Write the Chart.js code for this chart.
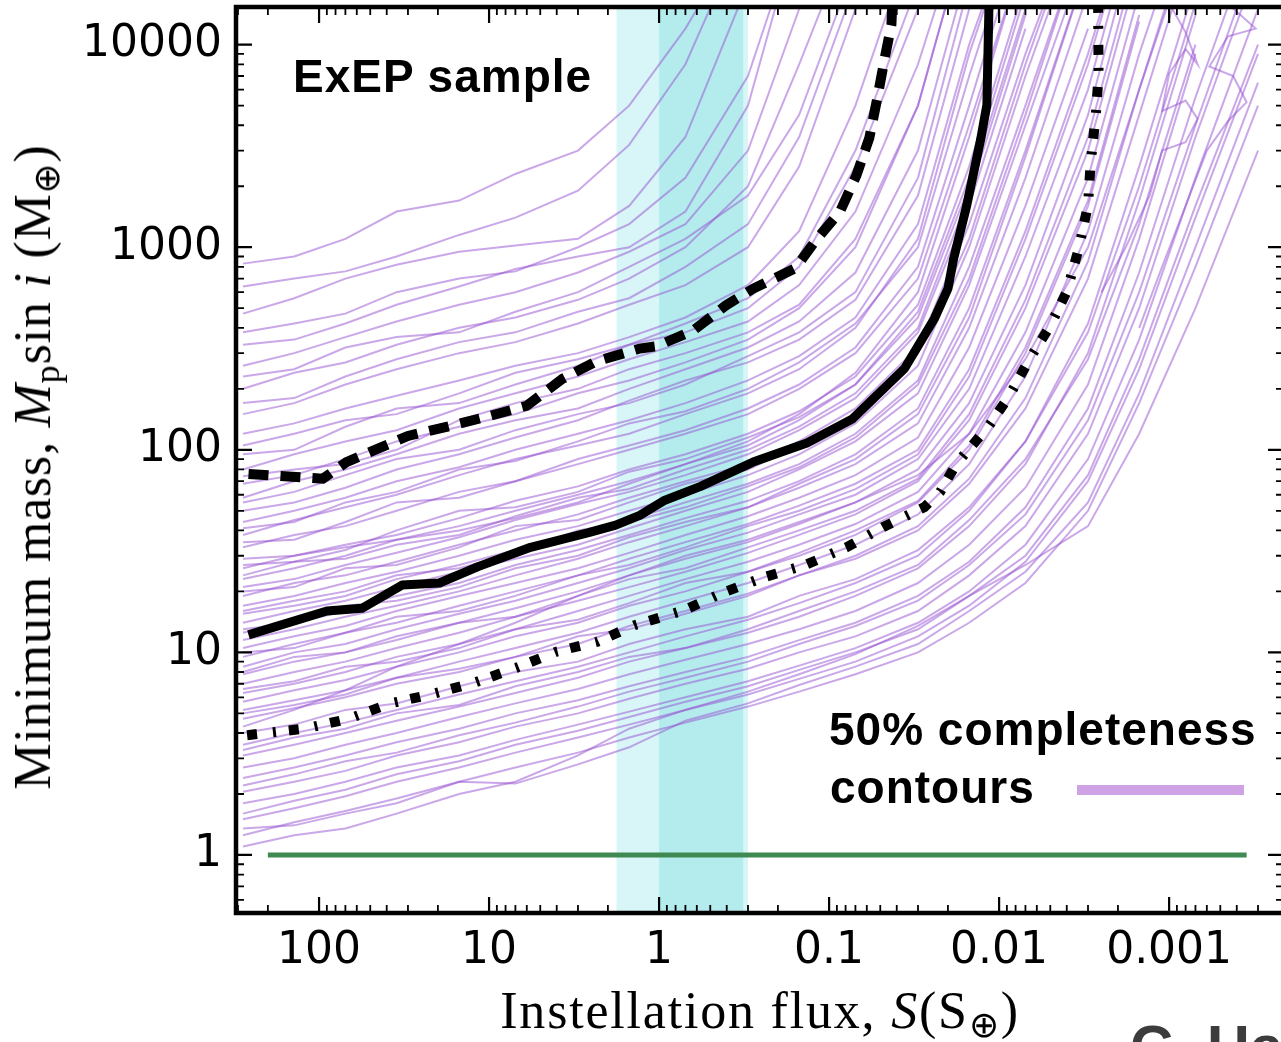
<!DOCTYPE html>
<html>
<head>
<meta charset="utf-8">
<script src="https://cdn.jsdelivr.net/npm/chart.js@4.4.1/dist/chart.umd.min.js"></script>
<style>
  html, body { margin: 0; padding: 0; background: #fff; }
  #wrap { position: relative; width: 1281px; height: 1042px; overflow: hidden; background: #fff; }
  #chart { position: absolute; left: 0; top: 0; }
  .lbl { position: absolute; white-space: nowrap; line-height: 1; color: #000; }
  .bold { font-family: "Liberation Sans", Arial, sans-serif; font-weight: bold; font-size: 46px; }
  .serif { font-family: "Liberation Serif", "Times New Roman", serif; font-size: 52px; }
  .serif sub { font-size: 36px; vertical-align: -9px; line-height: 0; }
  #xtitle { left: 760px; top: 985px; transform: translateX(-50%); letter-spacing: 1.8px; }
  #ytitle { left: 33px; top: 467px; transform: translate(-50%, -50%) rotate(-90deg); letter-spacing: 0.8px; }
  #sample { left: 293px; top: 53px; letter-spacing: 1px; }
  #leg1 { left: 829px; top: 706px; letter-spacing: 1px; }
  #leg2 { left: 830px; top: 764px; letter-spacing: 1px; }
  #legline { position: absolute; left: 1077px; top: 785px; width: 167px; height: 10px; background: #cfa2e6; }
  #credit { left: 1130px; top: 1017px; font-size: 60px; color: #3c3c3c; }
</style>
</head>
<body>
<div id="wrap">
  <canvas id="chart" width="1290" height="1042"></canvas>
  <div class="lbl bold" id="sample">ExEP sample</div>
  <div class="lbl bold" id="leg1">50% completeness</div>
  <div class="lbl bold" id="leg2">contours</div>
  <div id="legline"></div>
  <div class="lbl serif" id="xtitle">Instellation flux, <i>S</i>(S<sub>⊕</sub>)</div>
  <div class="lbl serif" id="ytitle">Minimum mass, <i>M</i><sub>p</sub>sin <i>i</i> (M<sub>⊕</sub>)</div>
  <div class="lbl bold" id="credit">C. Ha</div>
</div>
<script>
// axis ranges (flux axis runs backwards)
const X_MIN = 0.000211
const X_MAX = 308
const Y_MIN = 0.517
const Y_MAX = 15340

const xMajorTicks = [100, 10, 1, 0.1, 0.01, 0.001]
const yMajorTicks = [1, 10, 100, 1000, 10000]

// habitable zone bands (flux)
const hzOuter = [1.78, 0.30]
const hzInner = [1.0, 0.32]

// green reference line at 1 Earth mass
const earthFlux = [200, 0.00035]
const earthMass = [1, 1]

// black percentile curves
const solidFlux = [260, 90, 56, 32.5, 19.6, 11.6, 5.7, 2.6, 1.8, 1.3, 0.94, 0.57, 0.28, 0.135, 0.073, 0.036, 0.024, 0.02, 0.0185, 0.0155, 0.0128, 0.0118, 0.0114]
const solidMass = [12.2, 16, 16.5, 21.5, 22, 26.5, 33, 39, 42.5, 47.5, 56, 66, 87, 108, 142, 252, 445, 625, 880, 1610, 3450, 5050, 20000]

const dashedFlux = [260, 95, 69, 30, 17, 9.9, 6, 3.7, 2.35, 1.3, 1.04, 0.63, 0.405, 0.277, 0.158, 0.121, 0.086, 0.069, 0.058, 0.052, 0.047, 0.043, 0.042]
const dashedMass = [76, 72, 87, 117, 131, 147, 165, 224, 273, 316, 324, 388, 516, 627, 787, 1070, 1507, 2270, 3465, 5470, 8630, 12560, 20000]

const dotFlux = [265, 122, 67, 38, 22, 12.1, 6.9, 4.0, 2.3, 1.4, 0.72, 0.415, 0.241, 0.138, 0.079, 0.048, 0.0276, 0.0222, 0.0179, 0.0115, 0.0087, 0.0066, 0.005, 0.004, 0.0034, 0.003, 0.0029, 0.0027, 0.0026, 0.00262]
const dotMass = [3.9, 4.2, 4.7, 5.6, 6.2, 7.1, 8.4, 10.1, 11.3, 13.6, 16.1, 19.8, 23.5, 27, 33, 41.6, 52, 62, 85, 131, 185, 282, 410, 604, 985, 1614, 2560, 4500, 7050, 20000]

// individual 50% completeness contours, masses on a shared flux grid
const contourFlux = [280, 140, 70, 35, 15, 7, 3, 1.5, 0.7, 0.3, 0.15, 0.07, 0.03, 0.015, 0.007, 0.003, 0.0015, 0.0007, 0.0003]
const contourMass = [
  [830, 900, 1100, 1500, 1700, 2300, 3000, 5000, 12000, 40000],
  [640, 700, 760, 900, 1150, 1400, 1900, 3200, 8000, 40000],
  [470, 560, 700, 820, 950, 1020, 1100, 1600, 3500, 20000],
  [380, 420, 470, 600, 700, 760, 1000, 1300, 2200, 7000, 40000],
  [330, 350, 420, 520, 640, 780, 900, 1000, 1500, 5000, 40000],
  [260, 300, 360, 430, 520, 600, 750, 950, 1300, 3000, 15000],
  [230, 250, 320, 360, 380, 480, 600, 800, 1100, 1800, 4500, 25000],
  [200, 240, 270, 330, 400, 450, 550, 700, 1000, 2000, 8000, 40000],
  [170, 180, 230, 280, 340, 380, 480, 560, 800, 1300, 3500, 20000],
  [150, 170, 210, 250, 300, 340, 420, 520, 650, 1000, 2500, 15000],
  [120, 135, 160, 185, 220, 260, 300, 360, 450, 650, 1200, 5000, 40000],
  [105, 120, 140, 150, 190, 240, 280, 330, 420, 560, 900, 3000, 20000],
  [95, 100, 130, 160, 170, 210, 260, 330, 380, 500, 800, 2500, 15000],
  [80, 95, 110, 125, 160, 190, 230, 280, 340, 430, 650, 1500, 8000, 50000],
  [74, 80, 85, 100, 140, 170, 200, 250, 300, 380, 520, 1100, 5000, 40000],
  [68, 75, 90, 110, 130, 150, 190, 220, 270, 350, 500, 1000, 5000, 40000],
  [58, 70, 80, 95, 120, 140, 160, 200, 250, 320, 430, 750, 3000, 25000],
  [55, 62, 75, 90, 100, 125, 150, 170, 210, 290, 380, 600, 2200, 20000],
  [50, 55, 65, 80, 95, 115, 140, 175, 220, 270, 350, 550, 1800, 15000],
  [44, 50, 58, 70, 82, 100, 120, 140, 170, 220, 290, 450, 1300, 10000, 60000],
  [41, 44, 55, 62, 80, 88, 110, 135, 155, 200, 270, 420, 1000, 7000, 50000],
  [38, 45, 52, 60, 75, 90, 105, 120, 150, 190, 250, 400, 1100, 9000, 60000],
  [35, 36, 44, 55, 58, 70, 85, 100, 120, 150, 200, 300, 700, 4000, 30000],
  [33, 38, 42, 50, 62, 70, 90, 105, 125, 160, 210, 320, 800, 5000, 40000],
  [29, 30, 33, 36, 40, 46, 55, 68, 85, 110, 150, 240, 600, 3500, 30000],
  [27, 28, 32, 40, 50, 52, 62, 78, 90, 115, 145, 210, 480, 2200, 18000],
  [26, 30, 34, 38, 46, 56, 66, 80, 95, 120, 155, 230, 520, 2500, 20000],
  [24, 28, 29, 34, 38, 47, 58, 64, 80, 100, 130, 190, 400, 1800, 14000],
  [23, 26, 30, 36, 42, 50, 60, 70, 85, 105, 140, 210, 450, 2000, 15000],
  [21, 23, 27, 31, 37, 45, 54, 62, 75, 95, 125, 180, 380, 1600, 12000],
  [20, 21, 26, 27, 33, 42, 45, 55, 68, 80, 105, 150, 300, 1100, 8000, 60000],
  [19, 22, 24, 28, 34, 40, 48, 58, 70, 85, 110, 160, 320, 1300, 9000, 60000],
  [17, 19, 22, 25, 30, 36, 42, 50, 60, 75, 95, 135, 260, 1000, 7000, 50000],
  [16, 18, 20, 24, 26, 31, 40, 44, 52, 66, 82, 115, 210, 700, 4500, 40000],
  [15.5, 17, 19, 23, 27, 32, 38, 45, 55, 68, 85, 120, 220, 800, 5000, 40000],
  [14, 16, 18, 21, 25, 29, 34, 41, 50, 62, 80, 110, 190, 650, 4000, 30000],
  [13, 14, 16, 19, 22, 27, 32, 38, 46, 56, 70, 95, 160, 500, 3000, 25000],
  [12.5, 14.5, 17, 18, 21, 26, 30, 37, 44, 52, 68, 90, 150, 450, 2800, 25000],
  [11.5, 13, 15, 17, 20, 24, 29, 35, 42, 52, 65, 85, 135, 400, 2200, 18000],
  [10.5, 12, 13.5, 16, 19, 22, 26, 31, 38, 47, 58, 75, 115, 320, 1600, 12000],
  [10, 10.5, 12.5, 15, 16, 19, 24, 27, 33, 42, 50, 64, 95, 230, 1100, 8000, 60000],
  [9.5, 11, 12.5, 14, 17, 20, 24, 29, 35, 43, 53, 68, 100, 250, 1200, 9000, 60000],
  [8.5, 10, 11, 13, 15.5, 18, 22, 26, 32, 39, 48, 60, 90, 200, 900, 6000, 50000],
  [8, 9.5, 10, 11.5, 14, 15, 19, 23, 26, 33, 40, 50, 72, 150, 550, 3500, 30000],
  [7.8, 9, 10, 12, 14, 16.5, 20, 24, 29, 35, 43, 55, 80, 170, 650, 4500, 40000],
  [7, 8, 9, 10.5, 12.5, 15, 18, 21, 25, 31, 38, 48, 70, 140, 500, 3000, 25000],
  [6.6, 7.2, 8.5, 9, 10.5, 13, 14.5, 17.5, 22, 25, 31, 40, 56, 105, 320, 1700, 14000],
  [6.3, 7, 8, 9.5, 11, 13, 16, 19, 23, 28, 34, 43, 62, 120, 380, 2200, 18000],
  [5.7, 6.5, 7.3, 8.5, 10, 12, 14, 17, 20, 25, 30, 38, 55, 100, 300, 1600, 13000],
  [5.2, 5.8, 6.5, 7.5, 9, 10.5, 12.5, 15, 18, 22, 27, 34, 48, 85, 230, 1200, 9000, 60000],
  [5, 5.5, 6.2, 7.5, 8.3, 9.5, 12, 13, 15.5, 19, 24, 29, 40, 68, 160, 700, 4500, 35000],
  [4.7, 5.3, 6, 7, 8, 9.5, 11, 13.5, 16, 19.5, 24, 30, 42, 72, 180, 850, 6000, 45000],
  [4.3, 5.2, 6.5, 8.5, 11, 14, 19, 24, 30, 36, 44, 55, 75, 120, 280, 1000, 6000, 40000],
  [4, 4.4, 5.2, 5.6, 6.8, 8, 9, 11, 13, 15, 19, 23, 32, 52, 110, 380, 2000, 16000],
  [3.5, 4, 4.5, 5.2, 6.2, 7.2, 8.5, 10, 12, 14.5, 17.5, 22, 30, 50, 110, 420, 2500, 20000],
  [3.3, 3.8, 4.2, 5, 5.5, 6.8, 8, 9.5, 10.5, 13, 16, 20, 27, 45, 90, 280, 1300, 10000],
  [3.1, 3.5, 4, 4.6, 5.4, 6.3, 7.5, 9, 10.5, 12.5, 15, 19, 26, 42, 85, 300, 1700, 14000],
  [2.7, 3, 3.5, 4, 4.8, 5.6, 6.6, 7.8, 9.2, 11, 13, 16, 22, 34, 65, 210, 1100, 9000],
  [2.4, 2.7, 3.1, 3.6, 4.2, 5, 5.8, 6.8, 8, 9.5, 11.5, 14, 19, 28, 52, 160, 750, 5500, 40000],
  [2.2, 2.5, 2.9, 3.2, 3.9, 4.5, 5.4, 6.4, 7.5, 9, 11, 13.5, 18, 27, 48, 140, 600, 4000, 30000],
  [2.05, 2.3, 2.6, 3.1, 3.6, 4.3, 5, 5.9, 7, 8.3, 10, 12, 16, 24, 42, 120, 500, 3500, 25000],
  [1.8, 2, 2.3, 2.7, 3.1, 3.7, 4.4, 5.1, 6, 7.2, 8.6, 10.5, 14, 20, 34, 90, 350, 2200, 15000],
  [1.6, 1.85, 2.1, 2.5, 2.9, 3.5, 4.1, 4.8, 5.7, 6.8, 8.2, 10, 13, 19, 30, 75, 280, 1600, 10000],
  [1.5, 1.7, 1.95, 2.3, 2.7, 3.2, 3.8, 4.4, 5.2, 6.2, 7.4, 9, 12, 17, 28, 70, 250, 1400, 9000],
  [1.35, 1.4, 1.6, 1.8, 2.3, 2.25, 2.8, 3.4, 4.6, 5.6, 6.9, 8.5, 11, 16, 25, 55, 190, 1000, 6500],
  [1.25, 1.45, 1.65, 1.9, 2.3, 2.7, 3.2, 3.8, 4.5, 5.4, 6.4, 7.8, 10, 14, 22, 50, 170, 800, 5000],
  [1.1, 1.25, 1.35, 1.6, 2, 2.3, 3.1, 4.2, 5.2, 6.4, 7.8, 9.8, 13.5, 19, 27, 42, 120, 500, 3000]
]

// two contours that loop back near the top right
const loopFluxA = [0.0025, 0.0018, 0.0013, 0.0011, 0.0008, 0.00068, 0.0008, 0.0011, 0.0010, 0.0008, 0.00068, 0.0008, 0.001]
const loopMassA = [600, 1000, 1800, 3000, 3300, 4300, 5300, 4700, 7200, 9500, 8000, 11500, 16000]
const loopFluxB = [0.0015, 0.0011, 0.0008, 0.0006, 0.00045, 0.00035, 0.00042, 0.00058, 0.00045, 0.00031, 0.00038, 0.0005]
const loopMassB = [400, 800, 1600, 3000, 4200, 5200, 7000, 7800, 11000, 12000, 14000, 17000]

const minorTicks = (majors, lo, hi) => {
  const out = []
  majors.forEach(m => [2, 3, 4, 5, 6, 7, 8, 9].forEach(k => {
    const v = +(m * k).toPrecision(3)
    if (v > lo && v < hi && !out.includes(v)) out.push(v)
    const w = +(m * k / 10).toPrecision(3)
    if (w > lo && w < hi && !out.includes(w)) out.push(w)
  }))
  return out
}
const xMinorTicks = minorTicks(xMajorTicks, X_MIN, X_MAX)
const yMinorTicks = minorTicks(yMajorTicks, Y_MIN, Y_MAX)
const xTickValues = xMajorTicks.concat(xMinorTicks).sort((a, b) => a - b)
const yTickValues = yMajorTicks.concat(yMinorTicks).sort((a, b) => a - b)

const pts = (xs, ys) => ys.map((y, i) => ({ x: xs[i], y }))

const purple = "rgba(150, 80, 210, 0.5)"
const datasets = []
datasets.push({ data: pts(solidFlux, solidMass), borderColor: "#000", borderWidth: 9, order: 0, borderJoinStyle: "round" })
datasets.push({ data: pts(dashedFlux, dashedMass), borderColor: "#000", borderWidth: 10, borderDash: [20, 12], order: 0 })
datasets.push({ data: pts(dotFlux, dotMass), borderColor: "#000", borderWidth: 10, borderDash: [10, 16, 3, 13], order: 0 })
datasets.push({ data: pts(earthFlux, earthMass), borderColor: "#3f8a52", borderWidth: 5, order: 1 })
contourMass.forEach(row => {
  datasets.push({ data: pts(contourFlux, row), borderColor: purple, borderWidth: 2, order: 2 })
})
datasets.push({ data: pts(loopFluxA, loopMassA), borderColor: purple, borderWidth: 2, order: 2 })
datasets.push({ data: pts(loopFluxB, loopMassB), borderColor: purple, borderWidth: 2, order: 2 })

const framePlugin = {
  id: "frame",
  beforeDatasetsDraw(chart) {
    const { ctx, chartArea: a, scales: { x } } = chart
    ctx.save()
    ctx.fillStyle = "#d8f6f7"
    let x0 = x.getPixelForValue(hzOuter[0]), x1 = x.getPixelForValue(hzOuter[1])
    ctx.fillRect(x0, a.top, x1 - x0, a.bottom - a.top)
    ctx.fillStyle = "#b4eced"
    x0 = x.getPixelForValue(hzInner[0]); x1 = x.getPixelForValue(hzInner[1])
    ctx.fillRect(x0, a.top, x1 - x0, a.bottom - a.top)
    ctx.restore()
  },
  afterDraw(chart) {
    const { ctx, chartArea: a, scales: { x, y } } = chart
    ctx.save()
    ctx.strokeStyle = "#000"
    xTickValues.forEach(v => {
      const p = x.getPixelForValue(v)
      const major = xMajorTicks.includes(v)
      const len = major ? 16 : 8
      ctx.lineWidth = major ? 2.2 : 1.8
      ctx.beginPath()
      ctx.moveTo(p, a.bottom); ctx.lineTo(p, a.bottom - len)
      ctx.moveTo(p, a.top); ctx.lineTo(p, a.top + len)
      ctx.stroke()
    })
    yTickValues.forEach(v => {
      const p = y.getPixelForValue(v)
      const major = yMajorTicks.includes(v)
      const len = major ? 16 : 8
      ctx.lineWidth = major ? 2.2 : 1.8
      ctx.beginPath()
      ctx.moveTo(a.left, p); ctx.lineTo(a.left + len, p)
      ctx.moveTo(a.right, p); ctx.lineTo(a.right - len, p)
      ctx.stroke()
    })
    ctx.lineWidth = 4.5
    ctx.strokeRect(a.left, a.top, a.right - a.left, a.bottom - a.top)
    ctx.restore()
  }
}

const noPad = s => { s.paddingTop = 0; s.paddingBottom = 0; s.paddingLeft = 0; s.paddingRight = 0 }

new Chart(document.getElementById("chart"), {
  type: "scatter",
  data: { datasets },
  options: {
    responsive: false,
    animation: false,
    devicePixelRatio: 1,
    showLine: true,
    layout: { padding: { top: 7, right: 6, left: 0, bottom: 0 } },
    plugins: { legend: { display: false }, tooltip: { enabled: false } },
    elements: { point: { radius: 0, hoverRadius: 0 }, line: { tension: 0, fill: false } },
    scales: {
      x: {
        type: "logarithmic",
        reverse: true,
        min: X_MIN,
        max: X_MAX,
        grid: { display: false, drawTicks: false },
        border: { display: false },
        afterBuildTicks: s => { s.ticks = xTickValues.map(v => ({ value: v })) },
        afterFit: s => { s.height = 129; noPad(s) },
        ticks: {
          autoSkip: false, maxRotation: 0, minRotation: 0, padding: 12, color: "#000",
          font: { family: "DejaVu Sans", size: 44 },
          callback: v => xMajorTicks.includes(v) ? String(v) : null
        }
      },
      y: {
        type: "logarithmic",
        min: Y_MIN,
        max: Y_MAX,
        grid: { display: false, drawTicks: false },
        border: { display: false },
        afterBuildTicks: s => { s.ticks = yTickValues.map(v => ({ value: v })) },
        afterFit: s => { s.width = 236; noPad(s) },
        ticks: {
          autoSkip: false, padding: 14, color: "#000",
          font: { family: "DejaVu Sans", size: 44 },
          callback: v => yMajorTicks.includes(v) ? String(v) : null
        }
      }
    }
  },
  plugins: [framePlugin]
})
</script>
</body>
</html>
